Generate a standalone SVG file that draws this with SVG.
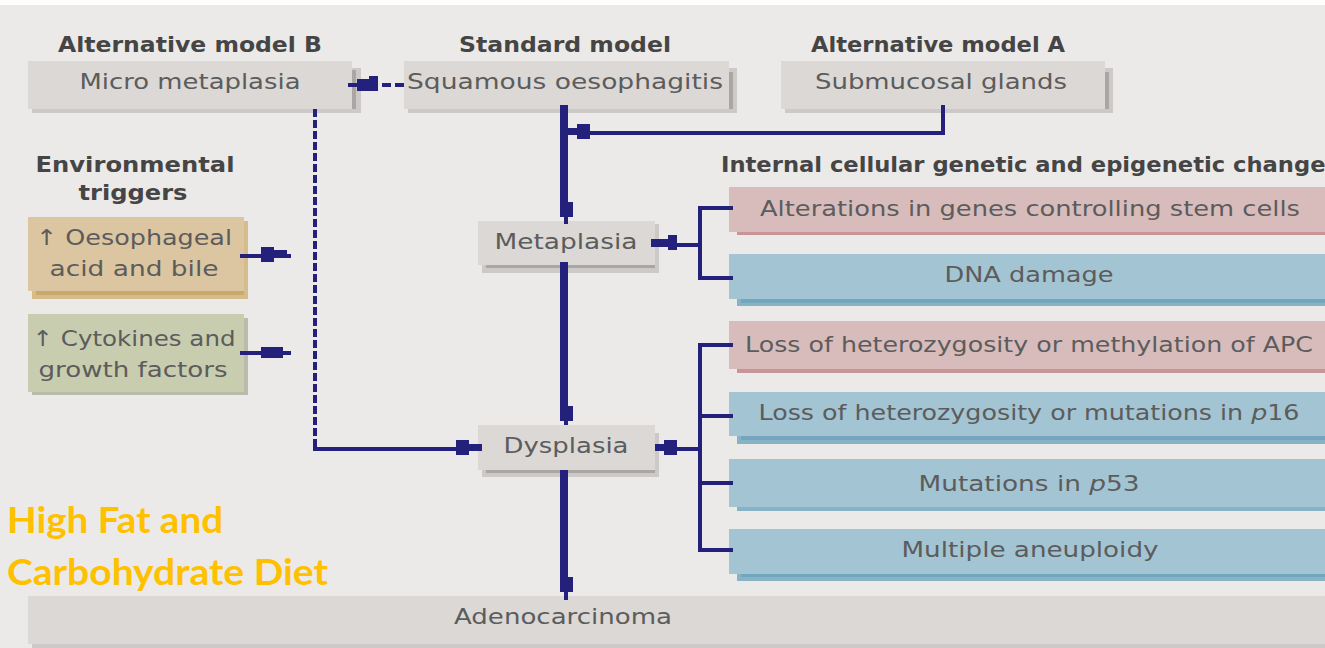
<svg xmlns="http://www.w3.org/2000/svg" width="1325" height="648" viewBox="0 0 1325 648">
<style>
.bg{fill:#eceae8}
.gbox{fill:#dbd8d6}
.gsh{fill:#cdc9c8}
.gdk{fill:#aaa6a4}
.pbox{fill:#d8bcbc}
.pdk{fill:#c89495}
.bbox{fill:#a3c4d3}
.bsh{fill:#87b3c6}
.bdk{fill:#73a6bc}
.hd{font-family:"DejaVu Sans","Liberation Sans",sans-serif;font-weight:bold;font-size:22px;fill:#454545}
.tx{font-family:"DejaVu Sans","Liberation Sans",sans-serif;font-size:22px;fill:#5c5c5c}
.diet{font-family:Lato,"Liberation Sans",sans-serif;font-weight:bold;font-size:36px;fill:#ffc000}
.ln{fill:none;stroke:#24217c;stroke-width:4;stroke-linejoin:miter}
.mn{fill:none;stroke:#24217c;stroke-width:8}
.ds{fill:none;stroke:#24217c;stroke-width:4}
.ah{fill:#24217c}
</style>
<rect x="0" y="0" width="1325" height="648" fill="#ffffff"/>
<rect class="bg" x="0" y="5" width="1325" height="643"/>

<g id="header-alt-b"><text class="hd" x="190" y="52" text-anchor="middle" textLength="264" lengthAdjust="spacingAndGlyphs">Alternative model B</text></g>
<g id="header-standard"><text class="hd" x="565" y="52" text-anchor="middle" textLength="212" lengthAdjust="spacingAndGlyphs">Standard model</text></g>
<g id="header-alt-a"><text class="hd" x="938" y="52" text-anchor="middle" textLength="254" lengthAdjust="spacingAndGlyphs">Alternative model A</text></g>

<g id="micro-metaplasia">
<rect class="gsh" x="32" y="68" width="329" height="45"/>
<rect class="gdk" x="352" y="70" width="4" height="39"/>
<rect class="gbox" x="28" y="61" width="324" height="48"/>
<text class="tx" x="190" y="89" text-anchor="middle" textLength="221" lengthAdjust="spacingAndGlyphs">Micro metaplasia</text>
</g>
<g id="squamous-oesophagitis">
<rect class="gsh" x="408" y="68" width="329" height="45"/>
<rect class="gdk" x="729" y="72" width="4" height="37"/>
<rect class="gbox" x="404" y="61" width="325" height="48"/>
<text class="tx" x="565" y="89" text-anchor="middle" textLength="316" lengthAdjust="spacingAndGlyphs">Squamous oesophagitis</text>
</g>
<g id="submucosal-glands">
<rect class="gsh" x="785" y="68" width="328" height="45"/>
<rect class="gdk" x="1105" y="72" width="4" height="37"/>
<rect class="gbox" x="781" y="61" width="324" height="48"/>
<text class="tx" x="941" y="89" text-anchor="middle" textLength="252" lengthAdjust="spacingAndGlyphs">Submucosal glands</text>
</g>

<g id="environmental-triggers">
<text class="hd" x="135" y="172" text-anchor="middle" textLength="199" lengthAdjust="spacingAndGlyphs">Environmental</text>
<text class="hd" x="133" y="200" text-anchor="middle" textLength="109" lengthAdjust="spacingAndGlyphs">triggers</text>
</g>
<g id="acid-bile">
<rect x="32" y="221" width="216" height="78" fill="#d6bc89"/>
<rect x="36" y="291" width="208" height="4" fill="#c7aa6b"/>
<rect x="28" y="217" width="216" height="74" fill="#dcc6a1"/>
<text class="tx" x="134" y="245" text-anchor="middle" textLength="196" lengthAdjust="spacingAndGlyphs">↑ Oesophageal</text>
<text class="tx" x="134" y="276" text-anchor="middle" textLength="169" lengthAdjust="spacingAndGlyphs">acid and bile</text>
</g>
<g id="cytokines">
<rect x="32" y="318" width="216" height="77" fill="#b9bcaa"/>
<rect x="28" y="314" width="216" height="78" fill="#c8cdb0"/>
<text class="tx" x="134" y="346" text-anchor="middle" textLength="203" lengthAdjust="spacingAndGlyphs">↑ Cytokines and</text>
<text class="tx" x="133" y="377" text-anchor="middle" textLength="189" lengthAdjust="spacingAndGlyphs">growth factors</text>
</g>

<g id="header-internal"><text class="hd" x="721" y="172" textLength="618" lengthAdjust="spacingAndGlyphs">Internal cellular genetic and epigenetic changes</text></g>

<g id="metaplasia">
<rect class="gsh" x="482" y="224" width="177" height="49"/>
<rect class="gdk" x="486" y="265" width="169" height="3"/>
<rect class="gbox" x="478" y="221" width="177" height="44"/>
<text class="tx" x="566" y="249" text-anchor="middle" textLength="143" lengthAdjust="spacingAndGlyphs">Metaplasia</text>
</g>
<g id="dysplasia">
<rect class="gsh" x="482" y="433" width="177" height="44"/>
<rect class="gdk" x="486" y="470" width="169" height="3"/>
<rect class="gbox" x="478" y="425" width="177" height="45"/>
<text class="tx" x="566" y="453" text-anchor="middle" textLength="125" lengthAdjust="spacingAndGlyphs">Dysplasia</text>
</g>
<g id="adenocarcinoma">
<rect class="gsh" x="32" y="600" width="1300" height="48"/>
<rect class="gbox" x="28" y="596" width="1300" height="48"/>
<text class="tx" x="563" y="624" text-anchor="middle" textLength="218" lengthAdjust="spacingAndGlyphs">Adenocarcinoma</text>
</g>

<g id="stem-cells">
<rect class="pdk" x="737" y="232" width="600" height="3"/>
<rect class="pbox" x="729" y="187" width="600" height="45"/>
<text class="tx" x="1030" y="216" text-anchor="middle" textLength="540" lengthAdjust="spacingAndGlyphs">Alterations in genes controlling stem cells</text>
</g>
<g id="dna-damage">
<rect class="bsh" x="737" y="262" width="600" height="44"/>
<rect class="bdk" x="741" y="299" width="600" height="4"/>
<rect class="bbox" x="729" y="254" width="600" height="45"/>
<text class="tx" x="1029" y="282" text-anchor="middle" textLength="169" lengthAdjust="spacingAndGlyphs">DNA damage</text>
</g>
<g id="apc">
<rect class="pdk" x="737" y="369" width="600" height="4"/>
<rect class="pbox" x="729" y="321" width="600" height="48"/>
<text class="tx" x="1029" y="352" text-anchor="middle" textLength="568" lengthAdjust="spacingAndGlyphs">Loss of heterozygosity or methylation of APC</text>
</g>
<g id="p16">
<rect class="bsh" x="737" y="400" width="600" height="44"/>
<rect class="bdk" x="741" y="436" width="600" height="4"/>
<rect class="bbox" x="729" y="392" width="600" height="44"/>
<text class="tx" x="1029" y="420" text-anchor="middle" textLength="541" lengthAdjust="spacingAndGlyphs">Loss of heterozygosity or mutations in <tspan font-style="italic">p</tspan>16</text>
</g>
<g id="p53">
<rect class="bsh" x="737" y="465" width="600" height="46"/>
<rect class="bbox" x="729" y="459" width="600" height="48"/>
<text class="tx" x="1029" y="491" text-anchor="middle" textLength="221" lengthAdjust="spacingAndGlyphs">Mutations in <tspan font-style="italic">p</tspan>53</text>
</g>
<g id="aneuploidy">
<rect class="bsh" x="737" y="537" width="600" height="44"/>
<rect class="bdk" x="741" y="574" width="600" height="3"/>
<rect class="bbox" x="729" y="529" width="600" height="45"/>
<text class="tx" x="1030" y="557" text-anchor="middle" textLength="257" lengthAdjust="spacingAndGlyphs">Multiple aneuploidy</text>
</g>

<g id="diet-label">
<text class="diet" x="7" y="533" textLength="216" lengthAdjust="spacingAndGlyphs">High Fat and</text>
<text class="diet" x="7" y="585" textLength="321" lengthAdjust="spacingAndGlyphs">Carbohydrate Diet</text>
</g>

<g id="connectors">
<path class="mn" d="M564,105 V202"/>
<path class="ah" d="M560,202 H573 V217 H568 V224 H564 V217 H560 Z"/>
<path class="mn" d="M564,262 V406"/>
<path class="ah" d="M560,406 H573 V421 H568 V425 H564 V421 H560 Z"/>
<path class="mn" d="M564,470 V577"/>
<path class="ah" d="M560,577 H573 V592 H568 V600 H564 V592 H560 Z"/>
<path class="ln" d="M943,105 V133 H590"/>
<path class="ah" d="M590,124 V139 H577 V135 H568 V128 H577 V124 Z"/>
<path class="ds" d="M404,85 H378" stroke-dasharray="9 4"/>
<path class="ah" d="M378,76 V91 H357 V87 H348 V83 H357 V79 H369 V76 Z"/>
<path class="ds" d="M315,109 V443" stroke-dasharray="8 3"/>
<path class="ln" d="M315,443 V449 H456"/>
<path class="ah" d="M456,440 H469 V444 H482 V451 H469 V455 H456 Z"/>
<path class="ln" d="M240,256 H291"/>
<path class="ah" d="M261,247 H274 V250 H287 V258 H274 V262 H261 Z"/>
<path class="ln" d="M240,353 H291"/>
<path class="ah" d="M261,347 H283 V358 H261 Z"/>
<path class="ln" d="M733,208 H700 V278 H733"/>
<path class="ln" d="M700,245 H677"/>
<path class="ah" d="M677,235 V250 H668 V247 H651 V239 H668 V235 Z"/>
<path class="ln" d="M733,345 H700 V550 H733"/>
<path class="ln" d="M700,416 H733 M700,483 H733"/>
<path class="ln" d="M700,449 H677"/>
<path class="ah" d="M677,440 V455 H664 V451 H655 V444 H664 V440 Z"/>
</g>
</svg>
